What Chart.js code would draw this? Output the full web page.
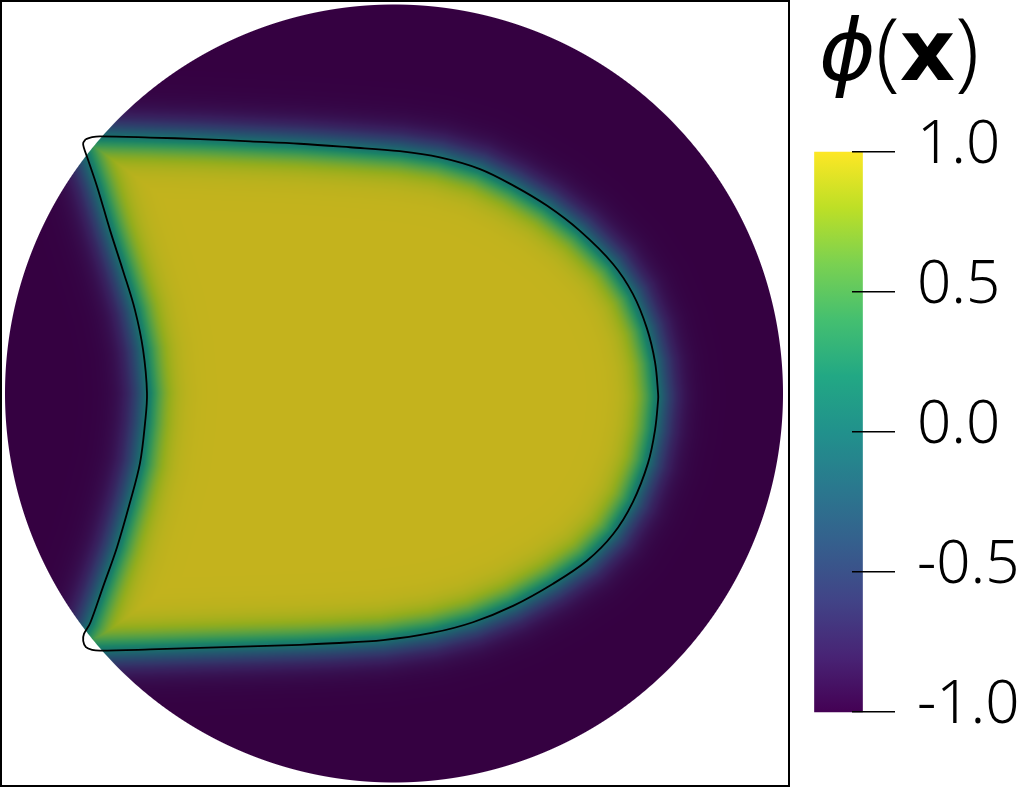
<!DOCTYPE html>
<html>
<head>
<meta charset="utf-8">
<script src="https://cdn.jsdelivr.net/npm/chart.js@4/dist/chart.umd.min.js"></script>
<style>
  html, body { margin:0; padding:0; background:#fff; overflow:hidden; }
  #wrap { position:relative; width:1018px; height:789px; }
  #field { position:absolute; left:0; top:0; }
  #cbar { position:absolute; left:800px; top:0; }
  #title { position:absolute; left:819px; top:0px; font-family:"DejaVu Sans", sans-serif; font-size:86px; line-height:1.1; color:#000; white-space:nowrap; }
  #title .phi { font-style:italic; }
  #title .par { font-weight:300; font-family:"Noto Sans", "DejaVu Sans", sans-serif; }
  #title .vx { font-weight:bold; }
</style>
</head>
<body>
<div id="wrap">
  <canvas id="field" width="791" height="788"></canvas>
  <canvas id="cbar" width="218" height="789"></canvas>
  <div id="title"><span class="phi">ϕ</span><span class="par">(</span><span class="vx">x</span><span class="par">)</span></div>
</div>
<script>
// ---- data (domain = unit circle) ----
const contourX = [-0.792,-0.776,-0.756,-0.627,-0.499,-0.370,-0.242,-0.113,0.015,0.118,0.221,0.306,0.393,0.478,0.563,0.614,0.650,0.671,0.679,0.679,0.671,0.653,0.614,0.563,0.496,0.409,0.306,0.203,0.100,-0.028,-0.157,-0.242,-0.370,-0.499,-0.627,-0.756,-0.776,-0.792,-0.799,-0.797,-0.781,-0.748,-0.712,-0.679,-0.653,-0.640,-0.635,-0.645,-0.666,-0.697,-0.730,-0.763,-0.789,-0.797,-0.799];
const contourY = [0.654,0.659,0.661,0.658,0.654,0.648,0.642,0.633,0.623,0.607,0.577,0.535,0.483,0.418,0.333,0.256,0.168,0.081,-0.001,-0.016,-0.094,-0.179,-0.279,-0.362,-0.430,-0.489,-0.546,-0.588,-0.615,-0.634,-0.642,-0.646,-0.650,-0.654,-0.658,-0.661,-0.659,-0.652,-0.636,-0.618,-0.590,-0.497,-0.395,-0.281,-0.179,-0.076,0.001,0.112,0.215,0.317,0.420,0.531,0.608,0.631,0.644];
const domainRadius = 1;
const phiInside = 1, phiOutside = -1;
const colorbarTicks = [-1.0, -0.5, 0.0, 0.5, 1.0];

// ---- styles ----
const VIRIDIS_HEX = ['#440154','#482475','#414487','#355f8d','#2a788e','#21918c','#22a884','#44bf70','#7ad151','#bddf26','#fde725'];
const VIRIDIS = VIRIDIS_HEX.map(h => [parseInt(h.slice(1,3),16), parseInt(h.slice(3,5),16), parseInt(h.slice(5,7),16)]);
const SHADE = 0.775;        // lighting applied to the rendered surface
const INTERFACE_PX = 21;    // diffuse-interface width in pixels

function viridis(t) {
  t = Math.max(0, Math.min(1, t));
  const n = VIRIDIS.length - 1;
  const f = t * n;
  const i = Math.min(Math.floor(f), n - 1);
  const u = f - i;
  const a = VIRIDIS[i], b = VIRIDIS[i + 1];
  return [a[0] + (b[0]-a[0])*u, a[1] + (b[1]-a[1])*u, a[2] + (b[2]-a[2])*u];
}

const CX = 394, CY = 393.5, R = 389;  // frame extents relative to the domain, for axis ranges
const fieldPlugin = {
  id: 'field',
  beforeDatasetsDraw(chart) {
    const { ctx, chartArea: a, scales: { x, y } } = chart;
    if (!chart.$field) {
      const W = Math.round(a.right - a.left), H = Math.round(a.bottom - a.top);
      const off = document.createElement('canvas');
      off.width = W; off.height = H;
      const octx = off.getContext('2d');
      const img = octx.createImageData(W, H);
      const d = img.data;
      const px = contourX.map(v => x.getPixelForValue(v) - a.left);
      const py = contourY.map(v => y.getPixelForValue(v) - a.top);
      const ccx = x.getPixelForValue(0) - a.left, ccy = y.getPixelForValue(0) - a.top;
      const Rp = x.getPixelForValue(domainRadius) - x.getPixelForValue(0);
      const n = px.length;
      for (let j = 0; j < H; j++) {
        const yy = j + 0.5;
        for (let i = 0; i < W; i++) {
          const xx = i + 0.5;
          const dr = Math.hypot(xx - ccx, yy - ccy);
          const cov = Math.min(1, Math.max(0, Rp - dr + 0.5));
          if (cov <= 0) continue;
          let md = Infinity, inside = false;
          for (let k = 0, l = n - 1; k < n; l = k++) {
            const x1 = px[l], y1 = py[l], x2 = px[k], y2 = py[k];
            if (((y1 > yy) !== (y2 > yy)) && (xx < (x2 - x1) * (yy - y1) / (y2 - y1) + x1)) inside = !inside;
            const ex = x2 - x1, ey = y2 - y1;
            const len2 = ex*ex + ey*ey || 1;
            let t = ((xx - x1)*ex + (yy - y1)*ey) / len2;
            t = t < 0 ? 0 : (t > 1 ? 1 : t);
            const dx = xx - (x1 + t*ex), dy = yy - (y1 + t*ey);
            const dd = dx*dx + dy*dy;
            if (dd < md) md = dd;
          }
          const sd = (inside ? 1 : -1) * Math.sqrt(md);
          const s = Math.tanh(sd / INTERFACE_PX);
          const phi = phiOutside + (phiInside - phiOutside) * (s + 1) / 2;
          const c = viridis((phi + 1) / 2);
          const o = (j * W + i) * 4;
          d[o] = c[0] * SHADE; d[o+1] = c[1] * SHADE; d[o+2] = c[2] * SHADE; d[o+3] = 255 * cov;
        }
      }
      octx.putImageData(img, 0, 0);
      chart.$field = off;
    }
    ctx.drawImage(chart.$field, a.left, a.top);
  },
  afterDraw(chart) {
    const { ctx, chartArea: a } = chart;
    ctx.save();
    ctx.strokeStyle = '#000';
    ctx.lineWidth = 2;
    ctx.strokeRect(a.left + 1, a.top + 1, 788, 785);
    ctx.restore();
  }
};

const linePts = contourX.map((v, i) => ({ x: v, y: contourY[i] }));
linePts.push({ x: contourX[0], y: contourY[0] });

new Chart(document.getElementById('field'), {
  type: 'scatter',
  data: { datasets: [{
    data: linePts, showLine: true, borderColor: '#000', borderWidth: 1.8,
    pointRadius: 0, tension: 0.35, clip: false, fill: false
  }]},
  options: {
    responsive: false, animation: false, devicePixelRatio: 1,
    layout: { padding: 0 },
    plugins: { legend: { display: false }, tooltip: { enabled: false } },
    scales: {
      x: { type: 'linear', display: false, min: (0 - CX) / R, max: (791 - CX) / R },
      y: { type: 'linear', display: false, min: (CY - 788) / R, max: CY / R }
    }
  },
  plugins: [fieldPlugin]
});

// ---- colorbar ----
new Chart(document.getElementById('cbar'), {
  type: 'bar',
  data: { datasets: [{
    data: [{ x: 0, y: [colorbarTicks[0], colorbarTicks[colorbarTicks.length - 1]] }],
    barThickness: 48, borderWidth: 0, clip: false,
    backgroundColor(c) {
      const ch = c.chart, ys = ch.scales.y;
      if (!ch.chartArea || !ys) return '#21918c';
      const g = ch.ctx.createLinearGradient(0, ys.getPixelForValue(-1), 0, ys.getPixelForValue(1));
      VIRIDIS_HEX.forEach((h, i) => g.addColorStop(i / (VIRIDIS_HEX.length - 1), h));
      return g;
    }
  }]},
  options: {
    responsive: false, animation: false, devicePixelRatio: 1,
    layout: { padding: { left: 18, top: 152, bottom: 77, right: 0 } },
    plugins: { legend: { display: false }, tooltip: { enabled: false } },
    scales: {
      x: { type: 'linear', display: false, min: -24, max: 10 },
      y: {
        position: 'right', min: -1, max: 1,
        afterFit(s) { s.width = 166; },
        afterBuildTicks(s) { s.ticks = colorbarTicks.map(v => ({ value: v })); },
        ticks: { callback: v => Number(v).toFixed(1), color: '#000', padding: 22, labelOffset: -6,
                 font: { size: 60, family: '"Noto Sans", "DejaVu Sans", sans-serif', weight: 300 } },
        grid: { drawOnChartArea: false, drawTicks: true, tickLength: 43, color: '#000', lineWidth: 1.5, z: 1 },
        border: { display: false }
      }
    }
  }
});
</script>
</body>
</html>
